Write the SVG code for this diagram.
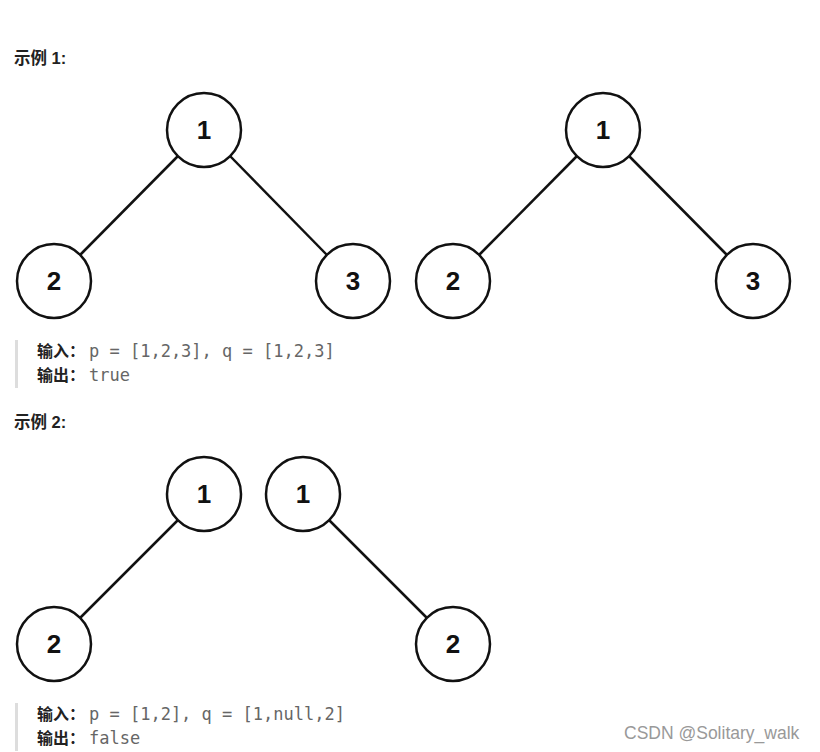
<svg xmlns="http://www.w3.org/2000/svg" width="820" height="752" viewBox="0 0 820 752">
<style>
.n circle{fill:#fff;stroke:#111;stroke-width:2.5}
.n text{font-family:"Liberation Sans",Arial,sans-serif;font-weight:bold;font-size:26px;fill:#111;text-anchor:middle}
.e line{stroke:#111;stroke-width:2.5}
.h{font-family:"Liberation Sans","Noto Sans CJK SC",sans-serif;font-weight:bold;font-size:16.5px;fill:#222}
.lb{font-family:"Noto Sans CJK SC","Liberation Sans",sans-serif;font-weight:bold;font-size:16px;fill:#222}
.code{font-family:"DejaVu Sans Mono","Liberation Mono",monospace;font-size:17px;fill:#666}
.bar{fill:#ddd}
</style>
<rect width="820" height="752" fill="#fff"/>
<text class="h" x="14" y="64">示例 1:</text>
<g class="e">
<line x1="177.5" y1="156.5" x2="80.5" y2="254.5"/>
<line x1="230.5" y1="156.5" x2="326.5" y2="254.5"/>
<line x1="576.5" y1="156.5" x2="479.5" y2="254.5"/>
<line x1="629.5" y1="156.5" x2="726.5" y2="254.5"/>
<line x1="177.5" y1="520.5" x2="80.5" y2="617.5"/>
<line x1="329.5" y1="520.5" x2="426.5" y2="617.5"/>
</g>
<g id="t1r" class="n"><circle cx="204" cy="130" r="37"/><text x="204" y="139">1</text></g>
<g id="t1l" class="n"><circle cx="54" cy="281" r="37"/><text x="54" y="290">2</text></g>
<g id="t1rr" class="n"><circle cx="353" cy="281" r="37"/><text x="353" y="290">3</text></g>
<g id="t2r" class="n"><circle cx="603" cy="130" r="37"/><text x="603" y="139">1</text></g>
<g id="t2l" class="n"><circle cx="453" cy="281" r="37"/><text x="453" y="290">2</text></g>
<g id="t2rr" class="n"><circle cx="753" cy="281" r="37"/><text x="753" y="290">3</text></g>
<rect class="bar" x="15" y="340" width="3" height="48"/>
<text x="37" y="357"><tspan class="lb">输入：</tspan><tspan class="code" x="89">p = [1,2,3], q = [1,2,3]</tspan></text>
<text x="37" y="381"><tspan class="lb">输出：</tspan><tspan class="code" x="89">true</tspan></text>
<text class="h" x="14" y="428">示例 2:</text>
<g id="t3r" class="n"><circle cx="204" cy="494" r="37"/><text x="204" y="503">1</text></g>
<g id="t3l" class="n"><circle cx="54" cy="644" r="37"/><text x="54" y="653">2</text></g>
<g id="t4r" class="n"><circle cx="303" cy="494" r="37"/><text x="303" y="503">1</text></g>
<g id="t4rr" class="n"><circle cx="453" cy="644" r="37"/><text x="453" y="653">2</text></g>
<rect class="bar" x="15" y="703" width="3" height="48"/>
<text x="37" y="720"><tspan class="lb">输入：</tspan><tspan class="code" x="89">p = [1,2], q = [1,null,2]</tspan></text>
<text x="37" y="744"><tspan class="lb">输出：</tspan><tspan class="code" x="89">false</tspan></text>
<text x="624" y="739" style="font-family:'Liberation Sans',Arial,sans-serif;font-size:17.5px;fill:#999">CSDN @Solitary_walk</text>
</svg>
